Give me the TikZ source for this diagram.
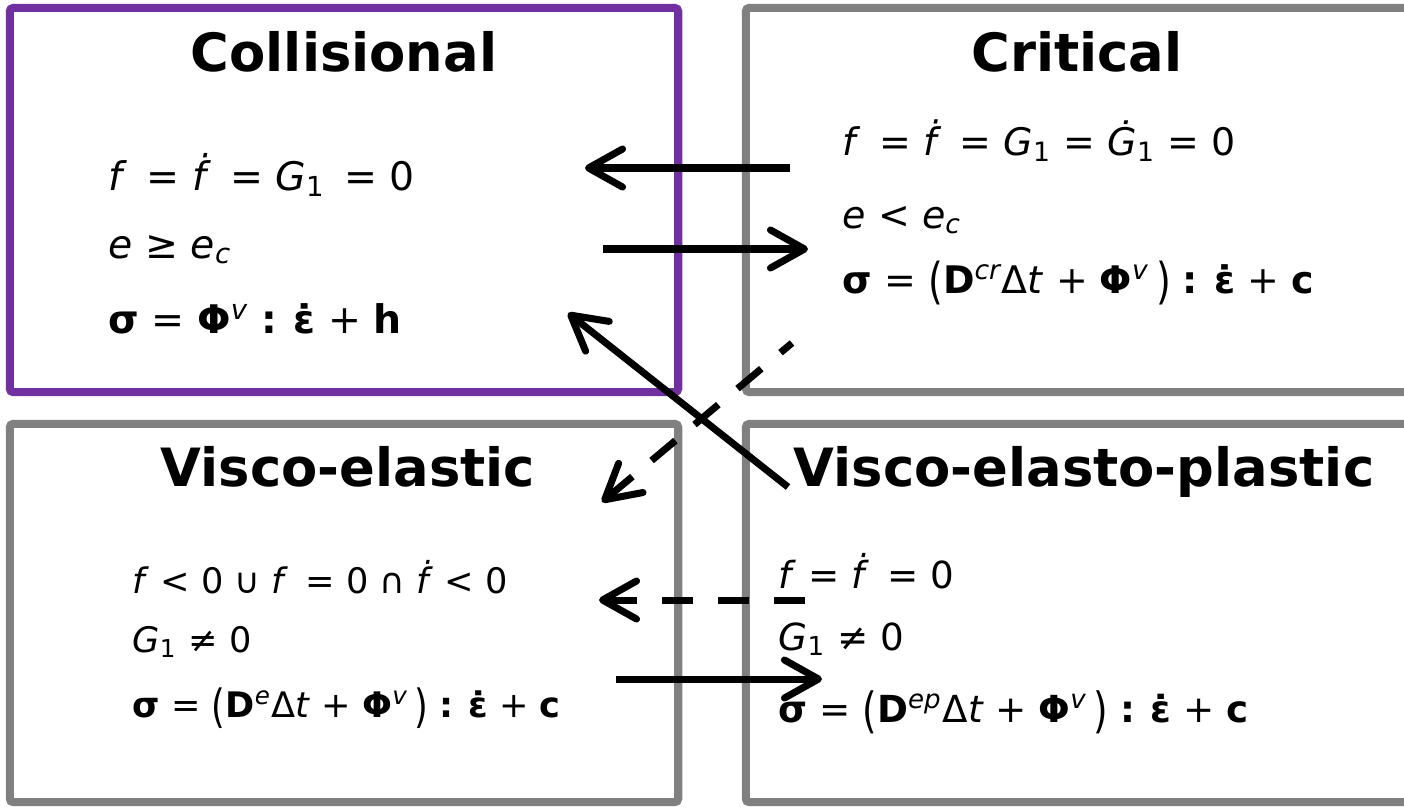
\documentclass[tikz,border=0pt]{standalone}
\usepackage{fontspec}
\setmainfont{DejaVu Sans}
\usepackage{xcolor}
\usepackage{graphicx}
\usepackage{tikz}
\usetikzlibrary{arrows.meta, positioning}
\definecolor{stpurple}{HTML}{7030A0}
\definecolor{stgray}{HTML}{808080}
\newcommand{\vsig}{\textbf{σ}}
\newcommand{\mPhi}{\textbf{Φ}}
\newcommand{\mD}{\textbf{D}}
\newcommand{\vepsd}{\textbf{ε^^^^0307}}
\newcommand{\vc}{\textbf{c}}
\newcommand{\vh}{\textbf{h}}
\newcommand{\bcol}{\textbf{:}}
\newcommand{\lpar}{\raisebox{-0.15em}{\scalebox{1}[1.3]{(}}}
\newcommand{\rpar}{\raisebox{-0.15em}{\scalebox{1}[1.3]{)}}}
\newcommand{\Gone}{\textit{G}\textsubscript{1}}
\newcommand{\Gdone}{\textit{Ġ}\textsubscript{1}}
\tikzset{
  state/.style={draw=stgray, line width=2.3pt, rounded corners=1pt, inner sep=0pt,
    minimum width=6.68cm},
  active/.style={state, draw=stpurple},
  title/.style={anchor=base, inner sep=0pt, font=\fontsize{15}{18}\selectfont\bfseries},
  eqn/.style={anchor=base west, inner sep=0pt, font=\fontsize{#1}{14}\selectfont},
  eqn/.default=12,
  trans/.style={-{Straight Barb[length=3.4mm, width=3.8mm, round]}, line width=2pt},
  backtrans/.style={trans, dash pattern=on 0.31cm off 0.25cm}
}

\begin{document}
\begin{tikzpicture}[x=0.01cm, y=-0.01cm]
    \useasboundingbox (0,0) rectangle (1404,808);

    % regimes
    \node[active, minimum height=3.84cm] (coll) at (344,200) {};
    \node[state, minimum height=3.84cm] (crit) at (1080,200) {};
    \node[state, minimum height=3.78cm] (ve) at (344,613) {};
    \node[state, minimum height=3.78cm] (vep) at (1080,613) {};

    \node[title] (colltitle) at (344,71) {Collisional};
    \node[title] (crittitle) at (1077,71) {Critical};
    \node[title] (vetitle) at (348,486) {Visco-elastic};
    \node[title] (veptitle) at (1084,486) {Visco-elasto-plastic};

    % conditions and stress
    \node[eqn=11.2] (coll1) at (108,190) {\textit{f} \,= \textit{ḟ} \,= \Gone{} \,= 0};
    \node[eqn=11.2] (coll2) at (108,258) {\textit{e} ≥ \textit{e}\textsubscript{\itshape c}};
    \node[eqn=11.2] (coll3) at (108,333) {\vsig{} = \mPhi\textsuperscript{\itshape v} \bcol{} \vepsd{} + \vh};

    \node[eqn=10.8] (crit1) at (842,155) {\textit{f} \,= \textit{ḟ} \,= \Gone{} = \Gdone{} = 0};
    \node[eqn=10.8] (crit2) at (842,228) {\textit{e} < \textit{e}\textsubscript{\itshape c}};
    \node[eqn=10.8] (crit3) at (842,293) {\vsig{} = \lpar\mD\textsuperscript{\itshape cr}Δ\textit{t} + \mPhi\textsuperscript{\itshape v}\,\rpar{} \bcol{} \vepsd{} + \vc};

    \node[eqn=10] (ve1) at (132,593) {\textit{f} < 0 ∪ \textit{f} \,= 0 ∩ \textit{ḟ} < 0};
    \node[eqn=10] (ve2) at (132,652) {\Gone{} ≠ 0};
    \node[eqn=10] (ve3) at (132,717) {\vsig{} = \lpar\mD\textsuperscript{\itshape e}Δ\textit{t} + \mPhi\textsuperscript{\itshape v}\,\rpar{} \bcol{} \vepsd{} + \vc};

    \node[eqn=10.6] (vep1) at (778,588) {\textit{f} = \textit{ḟ} \,= 0};
    \node[eqn=10.6] (vep2) at (778,650) {\Gone{} ≠ 0};
    \node[eqn=10.6] (vep3) at (778,722) {\vsig{} = \lpar\mD\textsuperscript{\itshape ep}Δ\textit{t} + \mPhi\textsuperscript{\itshape v}\,\rpar{} \bcol{} \vepsd{} + \vc};

    % transitions
    \coordinate (crcoS) at (790,168);
    \coordinate (crcoE) at (585,168);
    \coordinate (cocrS) at (603,249);
    \coordinate (cocrE) at (808,249);
    \coordinate (vpcoS) at (788,487);
    \coordinate (vpcoE) at (568,313);
    \coordinate (crveS) at (792,343);
    \coordinate (crveE) at (602,502);
    \coordinate (vpveS) at (805,600);
    \coordinate (vpveE) at (599,600);
    \coordinate (vevpS) at (616,679);
    \coordinate (vevpE) at (822,679);

    \draw[trans] (crcoS) -- (crcoE);
    \draw[trans] (cocrS) -- (cocrE);
    \draw[trans] (vpcoS) -- (vpcoE);
    \draw[backtrans, dash phase=0.16cm] (crveS) -- (crveE);
    \draw[backtrans] (vpveS) -- (vpveE);
    \draw[trans] (vevpS) -- (vevpE);
\end{tikzpicture}
\end{document}
